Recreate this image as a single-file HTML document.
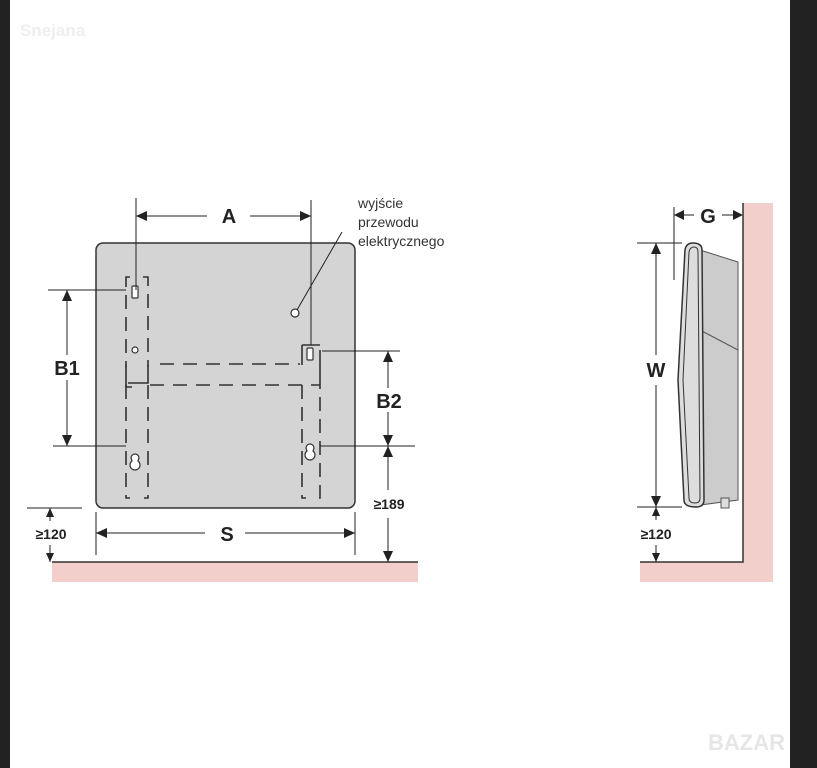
<!DOCTYPE html>
<html><head><meta charset="utf-8"><style>
html,body{margin:0;padding:0;background:#fff}
svg{display:block}
text{font-family:"Liberation Sans",sans-serif}
</style></head><body>
<svg width="817" height="768" viewBox="0 0 817 768" xmlns="http://www.w3.org/2000/svg">
<rect x="0" y="0" width="817" height="768" fill="#fff"/>
<rect x="0" y="0" width="10" height="768" fill="#222"/>
<rect x="790" y="0" width="27" height="768" fill="#222"/>
<text x="20" y="36" font-size="17" font-weight="bold" fill="#eee">Snejana</text>
<text x="708" y="750" font-size="22" font-weight="bold" fill="#e6e6e6">BAZAR</text>

<rect x="52" y="562" width="366" height="20" fill="#f3cfcb"/>
<line x1="52" y1="562" x2="418" y2="562" stroke="#333" stroke-width="1.5"/>
<rect x="96" y="243" width="259" height="265" rx="7" fill="#d4d4d4" stroke="#333" stroke-width="1.5"/>

<g stroke="#333" stroke-width="1.6" fill="none">
<path d="M130 277 h-4 v90" stroke-dasharray="14,8"/>
<path d="M143 277 h5 v90" stroke-dasharray="14,8"/>
<path d="M126 385 v113 h4 M148 385 v113 h-4" stroke-dasharray="14,8"/>
<path d="M126 365 v22 h6 M148 365 v18 h-20" />
<path d="M160 364 H300" stroke-dasharray="14,9"/>
<path d="M150 385 H320" stroke-dasharray="14,9"/>
<path d="M302 345 v20 M302 345 h18 M320 350 v25"/>
<path d="M302 385 v113 h4 M320 375 v123 h-4" stroke-dasharray="14,8"/>
</g>
<g fill="#fff" stroke="#333" stroke-width="1.2">
<rect x="132" y="286" width="6" height="12" rx="1"/>
<rect x="307" y="348" width="6" height="12" rx="1"/>
<circle cx="135" cy="350" r="3"/>
<path d="M131 458 a4 4 0 0 1 8 0 l-1 3 a5 5 0 1 1 -6 0z"/>
<path d="M306 448 a4 4 0 0 1 8 0 l-1 3 a5 5 0 1 1 -6 0z"/>
<circle cx="295" cy="313" r="4"/>
</g>
<g stroke="#222" stroke-width="1" fill="none">
<line x1="136" y1="198" x2="136" y2="290"/>
<line x1="311" y1="200" x2="311" y2="345"/>
<line x1="136" y1="216" x2="207" y2="216"/>
<line x1="250" y1="216" x2="311" y2="216"/>
<line x1="297" y1="310" x2="342" y2="232"/>
<line x1="48" y1="290" x2="126" y2="290"/>
<line x1="53" y1="446" x2="126" y2="446"/>
<line x1="67" y1="290" x2="67" y2="355"/>
<line x1="67" y1="380" x2="67" y2="446"/>
<line x1="322" y1="351" x2="400" y2="351"/>
<line x1="320" y1="446" x2="415" y2="446"/>
<line x1="388" y1="351" x2="388" y2="388"/>
<line x1="388" y1="412" x2="388" y2="446"/>
<line x1="388" y1="446" x2="388" y2="490"/>
<line x1="388" y1="518" x2="388" y2="562"/>
<line x1="96" y1="512" x2="96" y2="555"/>
<line x1="355" y1="512" x2="355" y2="555"/>
<line x1="96" y1="533" x2="205" y2="533"/>
<line x1="245" y1="533" x2="355" y2="533"/>
<line x1="27" y1="508" x2="82" y2="508"/>
<line x1="50" y1="508" x2="50" y2="521"/>
<line x1="50" y1="545" x2="50" y2="562"/>
</g>
<g fill="#222">
<path d="M136 216 l11 -5 v10z M311 216 l-11 -5 v10z"/>
<path d="M67 290 l-5 11 h10z M67 446 l-5 -11 h10z"/>
<path d="M388 351 l-5 11 h10z M388 446 l-5 -11 h10z M388 446 l-5 11 h10z M388 562 l-5 -11 h10z"/>
<path d="M96 533 l11 -5 v10z M355 533 l-11 -5 v10z"/>
<path d="M50 508 l-4 9 h8z M50 562 l-4 -9 h8z"/>
</g>
<g font-weight="bold" fill="#222" text-anchor="middle">
<text x="229" y="223" font-size="20">A</text>
<text x="67" y="375" font-size="20">B1</text>
<text x="389" y="408" font-size="20">B2</text>
<text x="227" y="541" font-size="20">S</text>
<text x="389" y="509" font-size="14">≥189</text>
<text x="51" y="539" font-size="14">≥120</text>
</g>
<g font-size="14" fill="#333">
<text x="358" y="208">wyjście</text>
<text x="358" y="227">przewodu</text>
<text x="358" y="246">elektrycznego</text>
</g>

<path d="M640 562 H743 V203 H773 V582 H640z" fill="#f3cfcb"/>
<path d="M640 562 H743 V203" fill="none" stroke="#333" stroke-width="1.5"/>
<path d="M700 250 L738 262 V500 L700 505z" fill="#ccc" stroke="#555" stroke-width="1"/>
<path d="M700 330 L738 350 M738 285 V470" stroke="#555" stroke-width="1" fill="none"/>
<path d="M685 250 Q686 243 693 243 Q702 243 702 250 L704 500 Q704 507 696 507 Q684 507 684 500 L678 380 Z" fill="#ddd" stroke="#333" stroke-width="1.5"/>
<path d="M689 252 Q690 247 694 247 Q698 247 698 252 L700 498 Q700 503 695 503 Q689 503 689 498 L683 380 Z" fill="none" stroke="#333" stroke-width="1"/>
<rect x="721" y="498" width="8" height="10" fill="#ddd" stroke="#555"/>
<g stroke="#222" stroke-width="1" fill="none">
<line x1="674" y1="207" x2="674" y2="280"/>
<line x1="674" y1="215" x2="694" y2="215"/>
<line x1="722" y1="215" x2="742" y2="215"/>
<line x1="637" y1="243" x2="682" y2="243"/>
<line x1="637" y1="507" x2="682" y2="507"/>
<line x1="656" y1="243" x2="656" y2="355"/>
<line x1="656" y1="385" x2="656" y2="507"/>
<line x1="656" y1="507" x2="656" y2="520"/>
<line x1="656" y1="545" x2="656" y2="562"/>
</g>
<g fill="#222">
<path d="M674 215 l10 -5 v10z M743 215 l-10 -5 v10z"/>
<path d="M656 243 l-5 11 h10z M656 507 l-5 -11 h10z M656 507 l-4 9 h8z M656 562 l-4 -9 h8z"/>
</g>
<g font-weight="bold" fill="#222" text-anchor="middle">
<text x="708" y="223" font-size="20">G</text>
<text x="656" y="377" font-size="20">W</text>
<text x="656" y="539" font-size="14">≥120</text>
</g>
</svg>
</body></html>
